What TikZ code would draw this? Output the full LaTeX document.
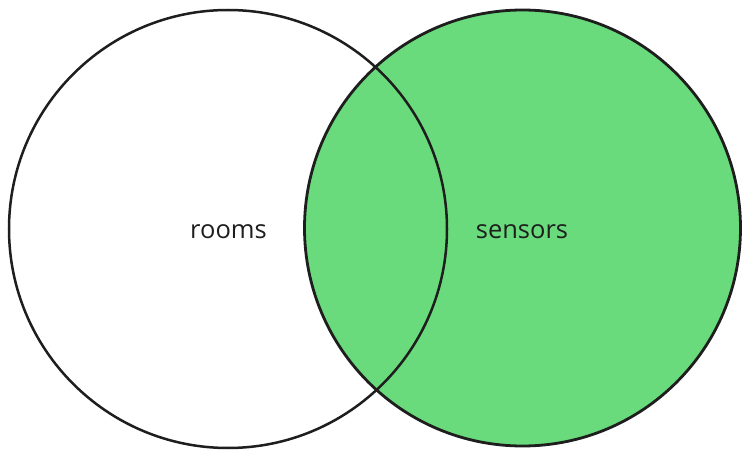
\documentclass[tikz,border=0pt]{standalone}
\usepackage{fontspec}
\setmainfont{Open Sans}
\definecolor{exgreen}{HTML}{69DB7C}
\definecolor{exink}{HTML}{1E1E1E}
\begin{document}
\begin{tikzpicture}[x=1pt,y=-1pt,
  ring/.style={draw=exink,line width=2.5pt},
  lbl/.style={text=exink,font=\fontsize{25.5}{30}\selectfont,inner sep=0pt}]
\useasboundingbox (0,0) rectangle (750,457);
\fill[white] (0,0) rectangle (750,457);
\fill[white] (228,229) circle[radius=219];
\fill[exgreen] (522.5,228) circle[radius=218];
\draw[ring] (228,229) circle[radius=219];
\draw[ring,line width=2.8pt] (522.5,228) circle[radius=218];
\node[lbl] (rooms) at (228.5,232) {rooms};
\node[lbl] (sensors) at (522,232) {sensors};
\end{tikzpicture}
\end{document}
